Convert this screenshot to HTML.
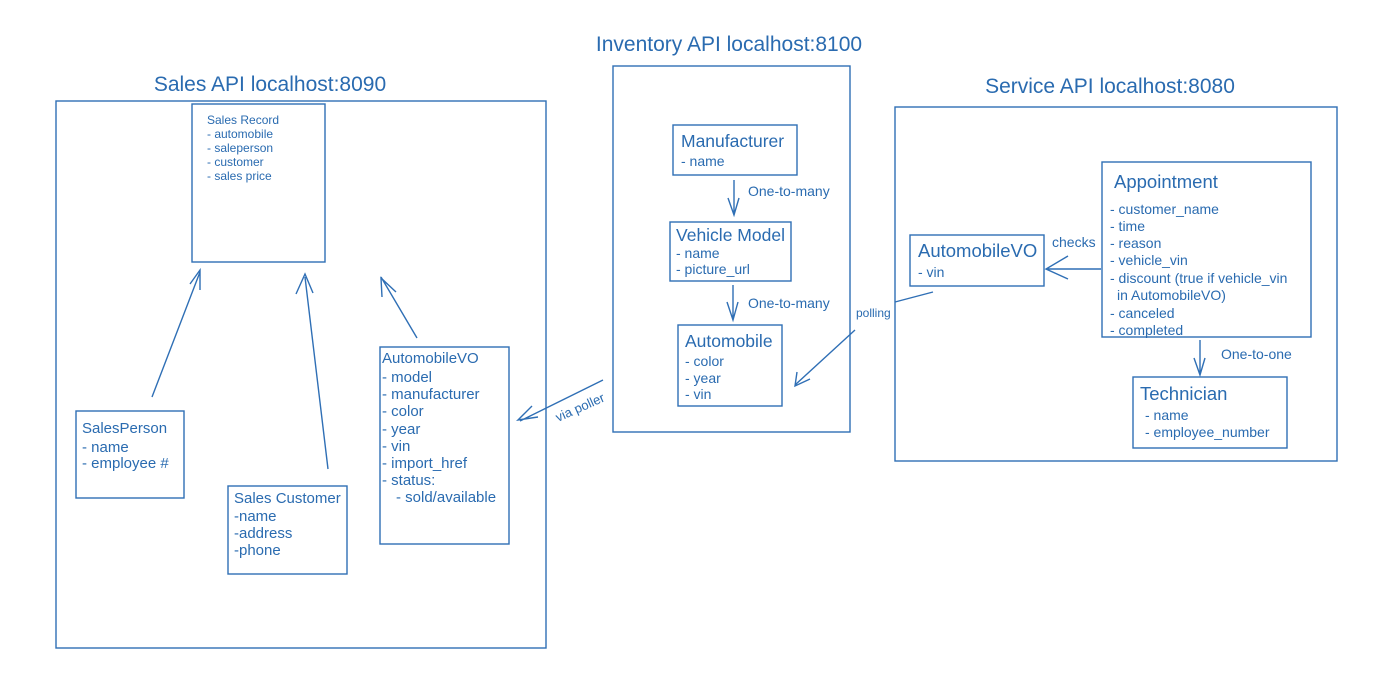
<!DOCTYPE html>
<html><head><meta charset="utf-8"><style>
html,body{margin:0;padding:0;background:#fff;}
svg{display:block;}
text{font-family:"Liberation Sans",sans-serif;fill:#2a6bb0;}
</style></head><body>
<svg width="1378" height="693" viewBox="0 0 1378 693" xmlns="http://www.w3.org/2000/svg">
<g fill="none" stroke="#2f6fb5" stroke-width="1.4">
<rect x="56" y="101" width="490" height="547"/>
<rect x="192" y="104" width="133" height="158"/>
<rect x="76" y="411" width="108" height="87"/>
<rect x="228" y="486" width="119" height="88"/>
<rect x="380" y="347" width="129" height="197"/>
<rect x="613" y="66" width="237" height="366"/>
<rect x="673" y="125" width="124" height="50"/>
<rect x="670" y="222" width="121" height="59"/>
<rect x="678" y="325" width="104" height="81"/>
<rect x="895" y="107" width="442" height="354"/>
<rect x="910" y="235" width="134" height="51"/>
<rect x="1102" y="162" width="209" height="175"/>
<rect x="1133" y="377" width="154" height="71"/>
<path d="M152 397 L200 272 M190 284 L200 270 L200 290"/>
<path d="M328 469 L305 277 M296 294 L305 274 L313 293"/>
<path d="M417 338 L381 277 M382 297 L381 278 L396 292"/>
<path d="M603 380 L520 421 M532 406 L518 420 L538 417"/>
<path d="M734 180 L734 215 M728 198 L734 215 L739 198"/>
<path d="M733 285 L733 320 M727 302 L733 320 L738 302"/>
<path d="M855 330 L795 385 M797 372 L795 386 L810 379"/>
<path d="M895 302 L933 292"/>
<path d="M1101 269 L1046 269 M1068 256 L1046 269 L1068 279"/>
<path d="M1200 340 L1200 375 M1194 358 L1200 375 L1205 358"/>
</g>
<text x="270" y="91" font-size="21" text-anchor="middle">Sales API localhost:8090</text>
<text x="729" y="51" font-size="21" text-anchor="middle">Inventory API localhost:8100</text>
<text x="1110" y="93" font-size="21" text-anchor="middle">Service API localhost:8080</text>
<g font-size="12"><text x="207" y="124">Sales Record</text><text x="207" y="138">- automobile</text><text x="207" y="152">- saleperson</text><text x="207" y="166">- customer</text><text x="207" y="180">- sales price</text></g>
<g font-size="15"><text x="82" y="433">SalesPerson</text><text x="82" y="452">- name</text><text x="82" y="468">- employee #</text></g>
<g font-size="15"><text x="234" y="503">Sales Customer</text><text x="234" y="521">-name</text><text x="234" y="538">-address</text><text x="234" y="555">-phone</text></g>
<g font-size="15"><text x="382" y="363">AutomobileVO</text><text x="382" y="382">- model</text><text x="382" y="399">- manufacturer</text><text x="382" y="416">- color</text><text x="382" y="434">- year</text><text x="382" y="451">- vin</text><text x="382" y="468">- import_href</text><text x="382" y="485">- status:</text><text x="396" y="502">- sold/available</text></g>
<text x="558" y="422" font-size="13" transform="rotate(-24 558 422)">via poller</text>
<text x="681" y="147" font-size="17.5">Manufacturer</text><text x="681" y="166" font-size="14">- name</text>
<text x="748" y="196" font-size="14">One-to-many</text>
<text x="676" y="241" font-size="17.5">Vehicle Model</text><text x="676" y="258" font-size="14">- name</text><text x="676" y="274" font-size="14">- picture_url</text>
<text x="748" y="308" font-size="14">One-to-many</text>
<text x="685" y="347" font-size="17.5">Automobile</text><text x="685" y="366" font-size="14">- color</text><text x="685" y="383" font-size="14">- year</text><text x="685" y="399" font-size="14">- vin</text>
<text x="856" y="317" font-size="12">polling</text>
<text x="918" y="257" font-size="18.5">AutomobileVO</text><text x="918" y="277" font-size="14">- vin</text>
<text x="1052" y="247" font-size="14">checks</text>
<text x="1114" y="188" font-size="18.5">Appointment</text>
<g font-size="14"><text x="1110" y="214">- customer_name</text><text x="1110" y="231">- time</text><text x="1110" y="248">- reason</text><text x="1110" y="265">- vehicle_vin</text><text x="1110" y="283">- discount (true if vehicle_vin</text><text x="1117" y="300">in AutomobileVO)</text><text x="1110" y="318">- canceled</text><text x="1110" y="335">- completed</text></g>
<text x="1221" y="359" font-size="14">One-to-one</text>
<text x="1140" y="400" font-size="18.5">Technician</text><text x="1145" y="420" font-size="14">- name</text><text x="1145" y="437" font-size="14">- employee_number</text>
</svg>
</body></html>
